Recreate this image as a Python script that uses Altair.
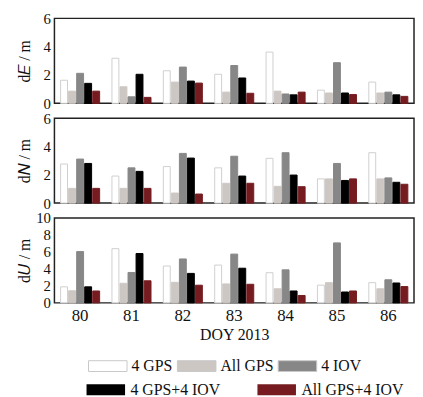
import altair as alt
import pandas as pd

days = ["80", "81", "82", "83", "84", "85", "86"]
series = ["4 GPS", "All GPS", "4 IOV", "4 GPS+4 IOV", "All GPS+4 IOV"]

dE = {
    "4 GPS":         [1.63, 3.18, 2.30, 2.05, 3.62, 0.93, 1.50],
    "All GPS":       [0.86, 1.17, 1.50, 0.79, 0.86, 0.73, 0.73],
    "4 IOV":         [2.12, 0.46, 2.56, 2.67, 0.66, 2.87, 0.79],
    "4 GPS+4 IOV":   [1.41, 2.05, 1.57, 1.79, 0.60, 0.73, 0.60],
    "All GPS+4 IOV": [0.86, 0.42, 1.43, 0.71, 0.79, 0.62, 0.49],
}
dN = {
    "4 GPS":         [2.76, 1.91, 2.58, 2.49, 3.16, 1.71, 3.56],
    "All GPS":       [1.04, 1.04, 0.71, 1.40, 1.18, 1.71, 1.71],
    "4 IOV":         [3.11, 2.49, 3.51, 3.31, 3.56, 2.80, 1.78],
    "4 GPS+4 IOV":   [2.80, 2.24, 3.18, 1.91, 1.98, 1.60, 1.47],
    "All GPS+4 IOV": [1.04, 1.04, 0.64, 1.40, 1.16, 1.71, 1.33],
}
dU = {
    "4 GPS":         [1.89, 6.38, 4.34, 4.45, 3.55, 2.08, 2.38],
    "All GPS":       [1.43, 2.30, 2.42, 2.23, 1.66, 2.38, 1.66],
    "4 IOV":         [6.04, 3.58, 5.17, 5.74, 3.89, 7.06, 2.72],
    "4 GPS+4 IOV":   [1.89, 5.81, 3.47, 4.08, 1.40, 1.28, 2.34],
    "All GPS+4 IOV": [1.40, 2.60, 2.08, 2.19, 0.87, 1.40, 1.92],
}

FONT = "Liberation Serif"
fill_range = ["#ffffff", "#cdc7c4", "#878787", "#000000", "#761c21"]
stroke_range = ["#cfcfcf", "#cdc7c4", "#878787", "#000000", "#761c21"]
# stroke scale uses reversed order so its legend stays separate from the fill legend
stroke_domain = series[::-1]
stroke_range_rev = stroke_range[::-1]


def make_df(comp):
    rows = []
    for s in series:
        for d, v in zip(days, comp[s]):
            rows.append({"day": d, "series": s, "series2": s, "value": v})
    return pd.DataFrame(rows)


legend_row1 = alt.Legend(
    title=None, orient="none", legendX=34, legendY=332, direction="horizontal",
    values=series[:3], symbolType="M-1,-0.28H1V0.28H-1Z", symbolSize=1521,
    symbolStrokeWidth=1, symbolStrokeColor="#c8c8c8", labelFont=FONT,
    labelFontSize=16, labelColor="#111", columnPadding=2, labelOffset=4,
    labelLimit=200,
)
legend_row2 = alt.Legend(
    title=None, orient="none", legendX=27, legendY=351, direction="horizontal",
    values=series[3:], symbolType="M-1,0H1", symbolSize=1521,
    symbolStrokeWidth=11, labelFont=FONT, labelFontSize=16, labelColor="#111",
    columnPadding=15, labelOffset=0, labelLimit=200,
)


def panel(comp, title, ymax, show_x):
    df = make_df(comp)
    xaxis = alt.Axis(
        labelAngle=0, labelFont=FONT, labelFontSize=17, labelColor="#111",
        ticks=False, domain=False, labelPadding=5, title="DOY 2013",
        titleFont=FONT, titleFontSize=16, titleFontWeight="normal",
        titleColor="#111", titlePadding=3,
    ) if show_x else None
    return alt.Chart(df).mark_bar(strokeWidth=1).encode(
        x=alt.X("day:N", sort=days, axis=xaxis,
                scale=alt.Scale(paddingInner=0.24, paddingOuter=0.12)),
        xOffset=alt.XOffset("series:N", sort=series,
                            scale=alt.Scale(domain=series, paddingInner=0.14)),
        y=alt.Y("value:Q", scale=alt.Scale(domain=[0, ymax], nice=False),
                axis=alt.Axis(values=list(range(0, ymax + 1, 2)), grid=False,
                              ticks=False, domain=False, labelFont=FONT,
                              labelFontSize=15, labelColor="#111", labelPadding=4,
                              title=title, titleFont=FONT, titleFontSize=16,
                              titleFontWeight="normal", titleColor="#111",
                              titleX=-22)),
        fill=alt.Fill("series:N", scale=alt.Scale(domain=series, range=fill_range),
                      legend=legend_row1),
        stroke=alt.Stroke("series2:N",
                          scale=alt.Scale(domain=stroke_domain, range=stroke_range_rev),
                          legend=legend_row2),
    ).properties(width=364, height=86)


chart = alt.vconcat(
    panel(dE, "d𝐸 / m", 6, False),
    panel(dN, "d𝑁 / m", 6, False),
    panel(dU, "d𝑈 / m", 10, True),
    spacing=15, bounds="flush",
).resolve_scale(fill="shared", stroke="shared").configure_view(
    stroke="#222", strokeWidth=1.5
).properties(padding={"left": 8, "top": 0, "right": 0, "bottom": 0})

chart.save("out.html", embed_options={"renderer": "svg", "actions": False})
